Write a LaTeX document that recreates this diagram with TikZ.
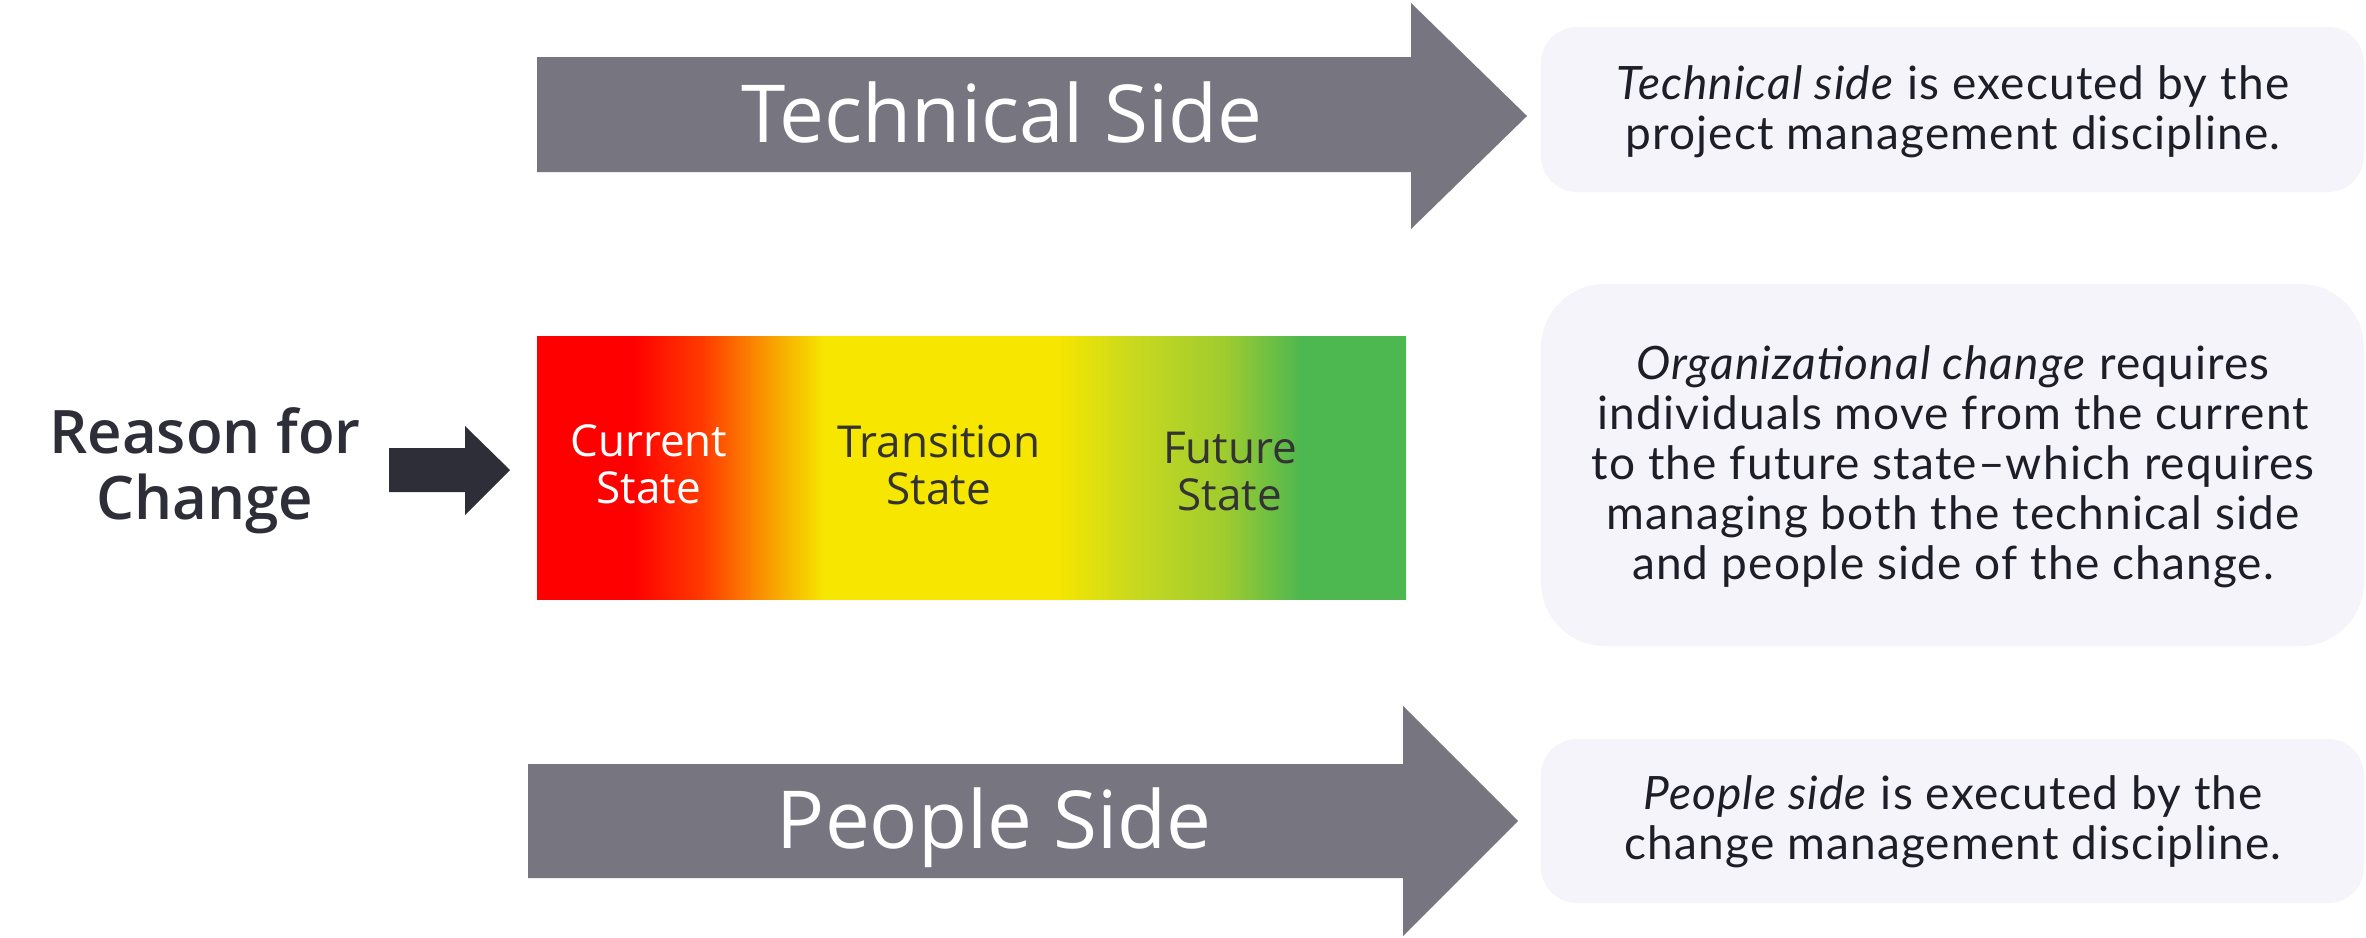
\documentclass[tikz,border=0pt]{standalone}
\usepackage{fontspec}
\setmainfont{Open Sans}
\newfontfamily\boxfont[LetterSpace=2.5]{Lato}
\IfFontExistsTF{Open Sans SemiBold}{\newfontfamily\reasonfont{Open Sans SemiBold}}{\IfFontExistsTF{Open Sans Semibold}{\newfontfamily\reasonfont{Open Sans Semibold}}{\newcommand\reasonfont{\bfseries}}}
\definecolor{arrowgrey}{HTML}{767580}
\definecolor{darkarrow}{HTML}{2E2E38}
\definecolor{boxfill}{HTML}{F4F4FA}
\definecolor{boxtext}{HTML}{1E1E28}
\definecolor{stext}{HTML}{333333}
\definecolor{cRed}{HTML}{FF0000}
\definecolor{cRO}{HTML}{FF3A00}
\definecolor{cOr}{HTML}{F8A000}
\definecolor{cYe}{HTML}{F6E600}
\definecolor{cLime}{HTML}{C9D91E}
\definecolor{cYG}{HTML}{A0CC2E}
\definecolor{cGr}{HTML}{4DB750}
\pgfdeclarehorizontalshading{rag}{100bp}{color(0bp)=(cRed); color(25bp)=(cRed); color(30.5bp)=(cRed); color(34.5bp)=(cRO); color(38.5bp)=(cOr); color(41.5bp)=(cYe); color(55bp)=(cYe); color(59.25bp)=(cLime); color(64.5bp)=(cYG); color(69bp)=(cGr); color(75bp)=(cGr); color(100bp)=(cGr)}
\tikzset{
  bigarrow/.style={fill=arrowgrey},
  bigtext/.style={text=white, font=\fontsize{40}{48}\selectfont, anchor=base, inner sep=0pt},
  statetext/.style={font=\fontsize{22}{23.5}\selectfont, align=center, inner sep=0pt},
  reasontext/.style={font=\reasonfont\fontsize{30}{33}\selectfont, text=darkarrow, align=center, inner sep=0pt},
  infobox/.style={fill=boxfill},
  infotext/.style={font=\boxfont\fontsize{23}{25}\selectfont, text=boxtext, align=center, inner sep=0pt}
}
\begin{document}
\begin{tikzpicture}[x=0.5pt,y=-0.5pt]
\path[use as bounding box, fill=white] (0,0) rectangle (2366,937);

% top arrow
\fill[bigarrow] (537,57) -- (1411,57) -- (1411,3) -- (1527,116) -- (1411,229) -- (1411,172) -- (537,172) -- cycle;
\node[bigtext] (tech) at (1002,142) {Technical Side};

% bottom arrow
\fill[bigarrow] (528,764) -- (1403,764) -- (1403,706) -- (1518,821) -- (1403,936) -- (1403,878) -- (528,878) -- cycle;
\node[bigtext] (people) at (994,848) {People Side};

% gradient bar
\shade[shading=rag] (537,336) rectangle (1406,599);
\node[statetext, text=white] (current) at (649,464) {Current\\State};
\node[statetext, text=stext] (transition) at (939,465) {Transition\\State};
\node[statetext, text=stext] (future) at (1230,472) {Future\\State};

% reason
\node[reasontext] (reason) at (205,471) {Reason for\\Change};
\fill[darkarrow] (389,448) -- (465,448) -- (465,426) -- (510,470) -- (465,515) -- (465,492) -- (389,492) -- cycle;

% info boxes
\fill[infobox, rounded corners=18pt] (1541,27) rectangle (2364,192);
\node[infotext] (t1) at (1953,112) {\textit{Technical side} is executed by the\\project management discipline.};

\fill[infobox, rounded corners=32pt] (1541,284) rectangle (2364,646);
\node[infotext] (t2) at (1953,467) {\textit{Organizational change} requires\\individuals move from the current\\to the future state–which requires\\managing both the technical side\\and people side of the change.};

\fill[infobox, rounded corners=18pt] (1541,739) rectangle (2364,903);
\node[infotext] (t3) at (1953,822) {\textit{People side} is executed by the\\change management discipline.};
\end{tikzpicture}
\end{document}
